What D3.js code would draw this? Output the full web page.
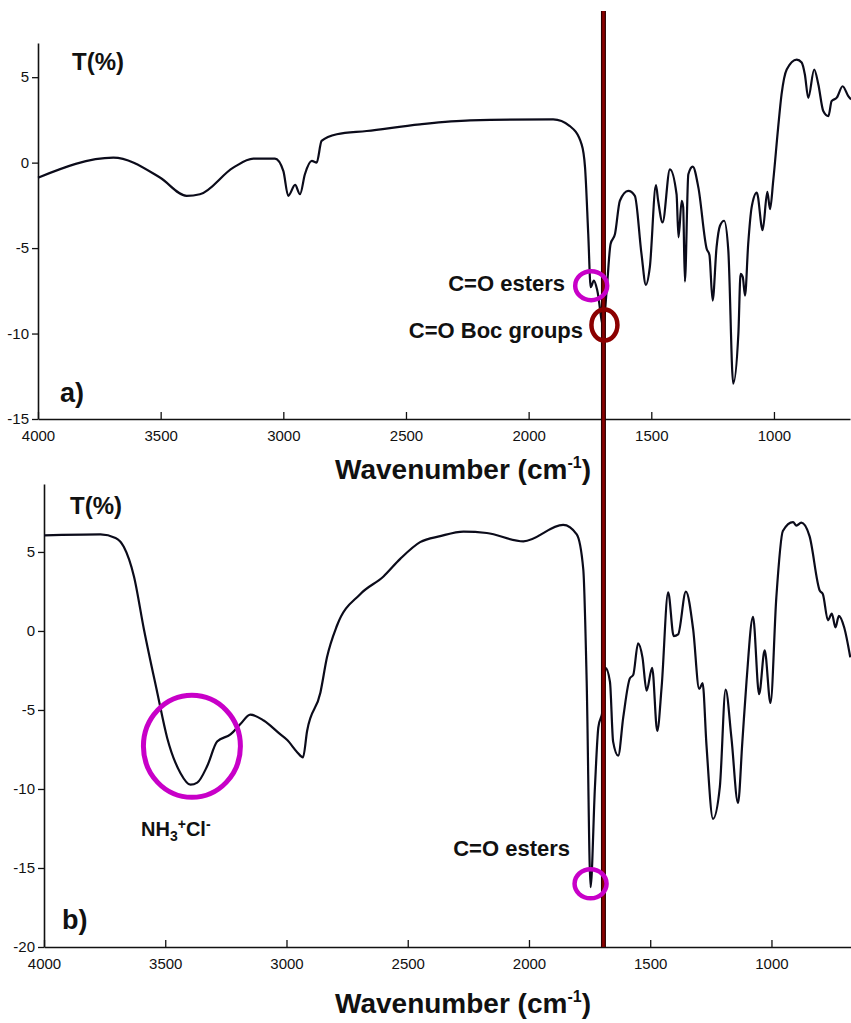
<!DOCTYPE html>
<html><head><meta charset="utf-8">
<script src="https://cdn.jsdelivr.net/npm/d3@7"></script>
<style>
body{margin:0;background:#fff}
svg{display:block;font-family:"Liberation Sans",Arial,sans-serif}
</style>
</head><body>
<svg id="c" width="851" height="1023"></svg>
<script>
// ---- data ----
const xTicks = [4000, 3500, 3000, 2500, 2000, 1500, 1000];
const topYTicks = [5, 0, -5, -10, -15];
const bottomYTicks = [5, 0, -5, -10, -15, -20];
const markerWavenumber = 1695;

const topWavenumber = [4000,3693,3503,3394,3340,3204,3122,3034,3000,2980,2952,2932,2912,2884,2864,2844,2782,2660,2443,2239,1900,1832,1784,1770,1757,1747,1734,1720,1696,1682,1666,1648,1628,1594,1567,1540,1522,1506,1481,1472,1454,1424,1397,1389,1376,1370,1363,1349,1331,1308,1274,1263,1250,1234,1220,1203,1186,1166,1145,1136,1127,1118,1105,1091,1070,1046,1027,1016,1003,983,969,948,907,887,874,860,836,819,799,778,765,744,720,697,686];
const topT = [-0.88,0.29,-0.87,-1.94,-1.85,-0.29,0.23,0.23,-0.48,-1.94,-1.3,-1.85,-0.68,0.1,0.0,1.27,1.66,1.85,2.24,2.47,2.53,2.14,1.07,-0.29,-4.18,-7.29,-6.9,-7.49,-9.53,-7.49,-4.76,-4.18,-2.23,-1.65,-1.94,-5.34,-7.15,-6.12,-1.32,-2.23,-3.5,-0.39,-1.85,-4.37,-2.23,-2.6,-6.96,-0.68,-0.23,-1.46,-5.05,-5.4,-8.07,-4.96,-3.69,-3.4,-5.15,-12.93,-10.0,-6.51,-6.7,-7.78,-4.76,-2.62,-1.75,-3.95,-1.71,-2.72,-1.07,2.04,3.99,5.45,6.03,5.86,5.16,3.79,5.45,4.57,3.02,2.72,3.6,3.8,4.47,3.89,3.7];

const bottomWavenumber = [4000,3767,3705,3671,3629,3588,3533,3492,3437,3396,3368,3327,3286,3231,3190,3149,3094,3025,2998,2956,2932,2915,2860,2833,2792,2696,2600,2531,2449,2366,2270,2174,2023,1859,1803,1776,1762,1746,1728,1714,1696,1684,1666,1653,1632,1611,1584,1570,1550,1532,1515,1492,1471,1453,1426,1403,1385,1353,1323,1298,1284,1268,1241,1213,1189,1165,1138,1120,1103,1076,1051,1028,1004,980,953,911,897,877,843,801,788,767,751,736,722,700,675];
const bottomT = [6.05,6.11,5.89,5.33,3.45,0.11,-3.89,-6.77,-9.0,-9.73,-9.6,-8.55,-7.0,-6.55,-5.89,-5.29,-5.67,-6.55,-6.89,-7.67,-8.0,-6.33,-3.89,-1.67,0.33,2.33,3.45,4.56,5.62,6.0,6.29,6.2,5.67,6.71,6.11,3.89,-3.22,-16.22,-9.89,-6.11,-5.0,-2.33,-3.22,-7.0,-7.89,-5.44,-3.0,-2.78,-0.78,-1.67,-3.78,-2.33,-6.33,-3.56,2.45,-0.33,-0.22,2.49,0.11,-3.67,-3.3,-7.22,-11.89,-9.89,-3.71,-6.78,-10.89,-7.0,-3.22,0.89,-4.0,-1.22,-4.56,2.11,6.33,6.89,6.67,6.85,6.0,2.56,2.33,0.67,1.1,0.22,0.96,0.22,-1.67];

// ---- drawing ----
const svg = d3.select("#c");
const ink = "#0b0b1a";
const magenta = "#c800c8";
const darkRed = "#8b0000";

function panel(cfg) {
  const x = d3.scaleLinear().domain(cfg.xDomain).range(cfg.xRange);
  const y = d3.scaleLinear().domain(cfg.yDomain).range(cfg.yRange);
  const g = svg.append("g");

  const ya = g.append("g").attr("transform", `translate(${cfg.xRange[0]},0)`)
    .call(d3.axisLeft(y).tickValues(cfg.yTicks).tickSize(6).tickSizeOuter(0).tickPadding(3)
      .tickFormat(d => String(d)));
  const xa = g.append("g").attr("transform", `translate(0,${cfg.yRange[0]})`)
    .call(d3.axisBottom(x).tickValues(xTicks).tickSize(-7).tickSizeOuter(0).tickPadding(11)
      .tickFormat(d => String(d)));
  [ya, xa].forEach(a => {
    a.selectAll("path.domain").attr("stroke", "#111").attr("stroke-width", 1.6);
    a.selectAll(".tick line").attr("stroke", "#111").attr("stroke-width", 1.3);
    a.selectAll("text").attr("font-size", 15).attr("fill", "#111")
      .attr("font-family", '"Liberation Sans",Arial,sans-serif');
  });

  const line = d3.line().x(d => x(d[0])).y(d => y(d[1])).curve(d3.curveMonotoneX);
  g.append("path").datum(d3.zip(cfg.wn, cfg.t))
    .attr("d", line).attr("fill", "none").attr("stroke", ink)
    .attr("stroke-width", 2.2).attr("stroke-linejoin", "round");

  g.append("text").attr("x", cfg.tLabel[0]).attr("y", cfg.tLabel[1])
    .attr("font-size", 24).attr("font-weight", "bold").attr("fill", "#111").text("T(%)");
  g.append("text").attr("x", cfg.pLabel[0]).attr("y", cfg.pLabel[1])
    .attr("font-size", 27).attr("font-weight", "bold").attr("fill", "#111").text(cfg.panelName);

  const title = g.append("text").attr("x", cfg.titlePos[0]).attr("y", cfg.titlePos[1])
    .attr("text-anchor", "middle").attr("font-size", 28).attr("font-weight", "bold").attr("fill", "#111");
  title.append("tspan").text("Wavenumber (cm");
  title.append("tspan").attr("dy", -11).attr("font-size", 16).text("-1");
  title.append("tspan").attr("dy", 11).text(")");
  return {x, y, g};
}

const A = panel({
  xDomain: [4000, 690], xRange: [38, 850],
  yDomain: [-15, 7], yRange: [419, 43],
  yTicks: topYTicks, wn: topWavenumber, t: topT,
  tLabel: [72, 70], pLabel: [60, 402], panelName: "a)",
  titlePos: [463, 479]
});
const B = panel({
  xDomain: [4000, 672], xRange: [44, 851],
  yDomain: [-20, 9.3], yRange: [947, 484],
  yTicks: bottomYTicks, wn: bottomWavenumber, t: bottomT,
  tLabel: [70, 514], pLabel: [62, 929], panelName: "b)",
  titlePos: [463, 1013]
});

// vertical marker line through both panels
const mx = A.x(markerWavenumber);
svg.append("line").attr("x1", mx).attr("x2", mx).attr("y1", 11).attr("y2", 947)
  .attr("stroke", "#2a0000").attr("stroke-width", 5);
svg.append("line").attr("x1", mx).attr("x2", mx).attr("y1", 11).attr("y2", 947)
  .attr("stroke", darkRed).attr("stroke-width", 2.6);

// annotations
function label(txt, x, y, anchor, size) {
  return svg.append("text").attr("x", x).attr("y", y).attr("text-anchor", anchor)
    .attr("font-size", size).attr("font-weight", "bold").attr("fill", "#111").text(txt);
}
function ring(cx, cy, rx, ry, color, w) {
  svg.append("ellipse").attr("cx", cx).attr("cy", cy).attr("rx", rx).attr("ry", ry)
    .attr("fill", "none").attr("stroke", color).attr("stroke-width", w);
}
label("C=O esters", 565, 291, "end", 22);
ring(A.x(1745), A.y(-7.2), 16, 14.5, magenta, 4.5);
label("C=O Boc groups", 583, 338, "end", 22);
ring(A.x(1691), A.y(-9.5), 13, 15.5, darkRed, 4.5);

ring(B.x(3390), B.y(-7.3), 48.5, 51, magenta, 5);
const nh = svg.append("text").attr("x", 141).attr("y", 836)
  .attr("font-size", 20).attr("font-weight", "bold").attr("fill", "#111");
nh.append("tspan").text("NH");
nh.append("tspan").attr("dy", 5).attr("font-size", 14).text("3");
nh.append("tspan").attr("dy", -12).attr("font-size", 14).text("+");
nh.append("tspan").attr("dy", 7).text("Cl");
nh.append("tspan").attr("dy", -7).attr("font-size", 14).text("-");

label("C=O esters", 570, 856, "end", 22);
ring(B.x(1746), B.y(-16.0), 16, 14.5, magenta, 4.5);
</script>
</body></html>
